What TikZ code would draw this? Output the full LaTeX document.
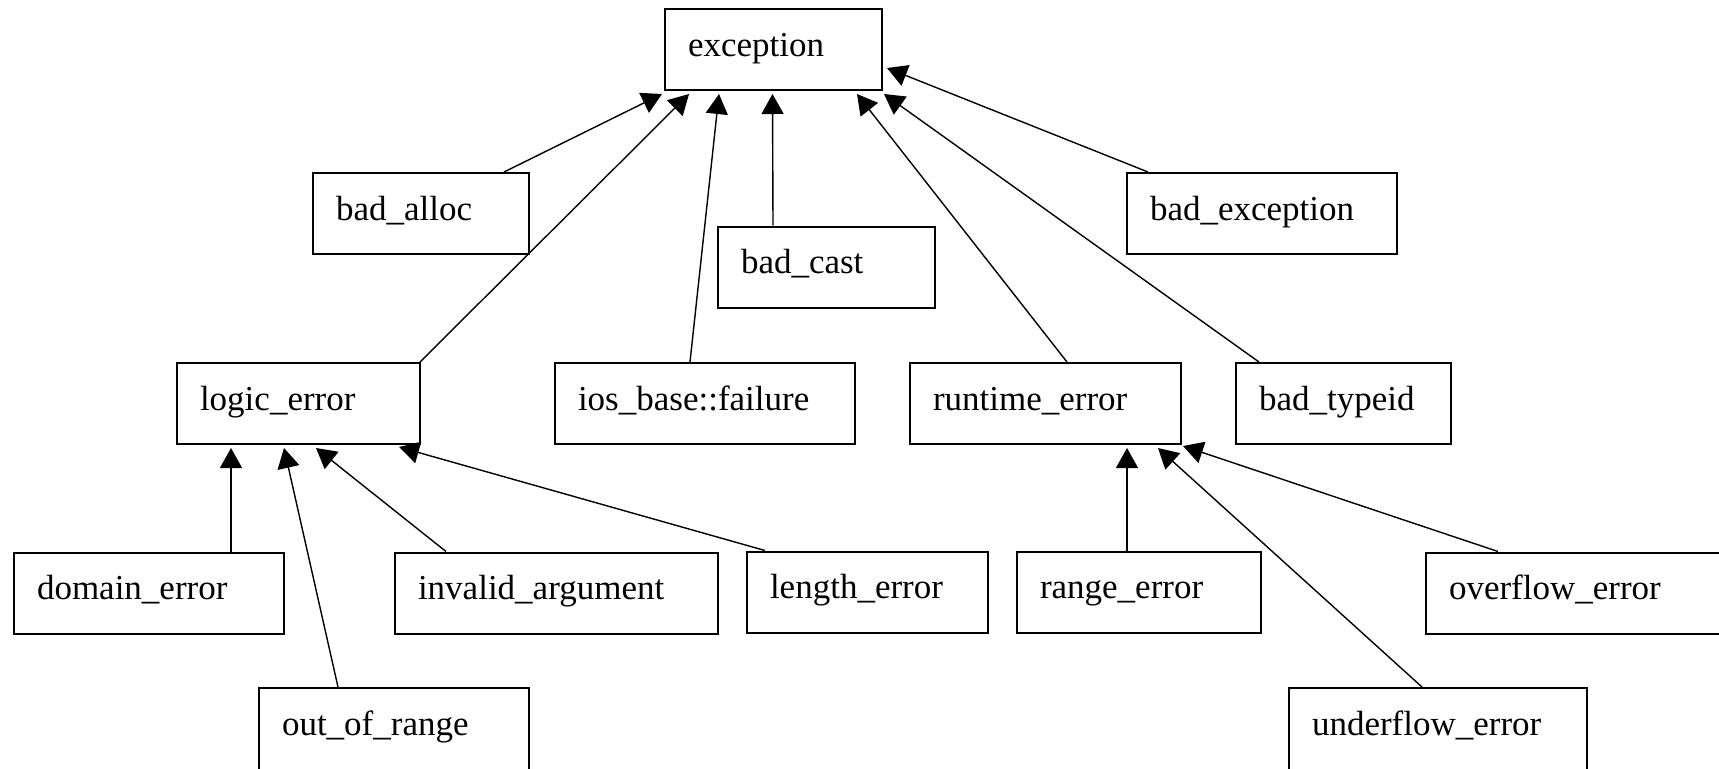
\documentclass[tikz,border=0pt]{standalone}
\usepackage{fontspec}
\setmainfont{Liberation Serif}
\usetikzlibrary{arrows.meta,calc}

\begin{document}
\begin{tikzpicture}[x=0.5pt,y=-0.5pt,
  cls/.style={draw=black, line width=1pt, rectangle, inner xsep=11.5pt, inner ysep=0pt,
    minimum height=40.5pt, text width=#1, align=left,
    text height=12pt, text depth=5.5pt, font=\fontsize{17.5}{18}\selectfont},
  inh/.style={draw=black, line width=0.7pt, -{Triangle[length=10pt,width=11pt]}}]

\useasboundingbox (0,0) rectangle (1719,768);
\clip (0,0) rectangle (1719,768);

% class boxes
\node[cls=85.5pt]  (exception)    at (773.5,49.5)  {exception};
\node[cls=85pt]    (badalloc)     at (421,213.5)   {bad\_alloc};
\node[cls=85.5pt]  (badcast)      at (826.5,267)   {bad\_cast};
\node[cls=112pt]   (badexception) at (1262,213.5)  {bad\_exception};
\node[cls=98.5pt]  (logicerror)   at (298.5,403.5) {logic\_error};
\node[cls=127pt]   (iosfailure)   at (705,403.5)   {ios\_base::failure};
\node[cls=112.5pt] (runtimeerror) at (1045.5,403.5){runtime\_error};
\node[cls=84.5pt]  (badtypeid)    at (1343.5,403.5){bad\_typeid};
\node[cls=112pt]   (domainerror)  at (149,593)     {domain\_error};
\node[cls=138.5pt] (invalidarg)   at (556.5,593)   {invalid\_argument};
\node[cls=97.5pt]  (lengtherror)  at (867.5,592)   {length\_error};
\node[cls=99pt]    (rangeerror)   at (1139,592)    {range\_error};
\node[cls=129pt]   (overflowerror) at (1578,593)   {overflow\_error};
\node[cls=112pt, minimum height=41pt] (outofrange) at (394,729) {out\_of\_range};
\node[cls=126pt, minimum height=41pt] (underflowerror) at (1438,729) {underflow\_error};

% inheritance arrows into exception
\draw[inh] ($(badalloc.north west)+(192,0)$)     -- ($(exception.south west)+(-2,3)$);
\draw[inh] ($(logicerror.north west)+(244,0)$)   -- ($(exception.south west)+(25,3)$);
\draw[inh] ($(iosfailure.north west)+(136,0)$)   -- ($(exception.south west)+(55,3)$);
\draw[inh] ($(badcast.north west)+(56,0)$)       -- ($(exception.south west)+(108.5,3)$);
\draw[inh] ($(runtimeerror.north west)+(158,0)$) -- ($(exception.south west)+(193,3)$);
\draw[inh] ($(badtypeid.north west)+(24,0)$)     -- ($(exception.south west)+(220,3)$);
\draw[inh] ($(badexception.north west)+(22,0)$)  -- ($(exception.south east)+(4,-23)$);

% inheritance arrows into logic_error
\draw[inh] ($(domainerror.north west)+(218,0)$)  -- ($(logicerror.south west)+(55,3)$);
\draw[inh] ($(outofrange.north west)+(80,0)$)    -- ($(logicerror.south west)+(108,3)$);
\draw[inh] ($(invalidarg.north west)+(52,0)$)    -- ($(logicerror.south west)+(140,3)$);
\draw[inh] ($(lengtherror.north west)+(19,0)$)   -- ($(logicerror.south west)+(223,2)$);

% inheritance arrows into runtime_error
\draw[inh] ($(rangeerror.north west)+(111,0)$)   -- ($(runtimeerror.south west)+(218,3)$);
\draw[inh] ($(underflowerror.north west)+(134,0)$) -- ($(runtimeerror.south west)+(249,3)$);
\draw[inh] ($(overflowerror.north west)+(73,0)$) -- ($(runtimeerror.south west)+(274,1)$);
\end{tikzpicture}
\end{document}
